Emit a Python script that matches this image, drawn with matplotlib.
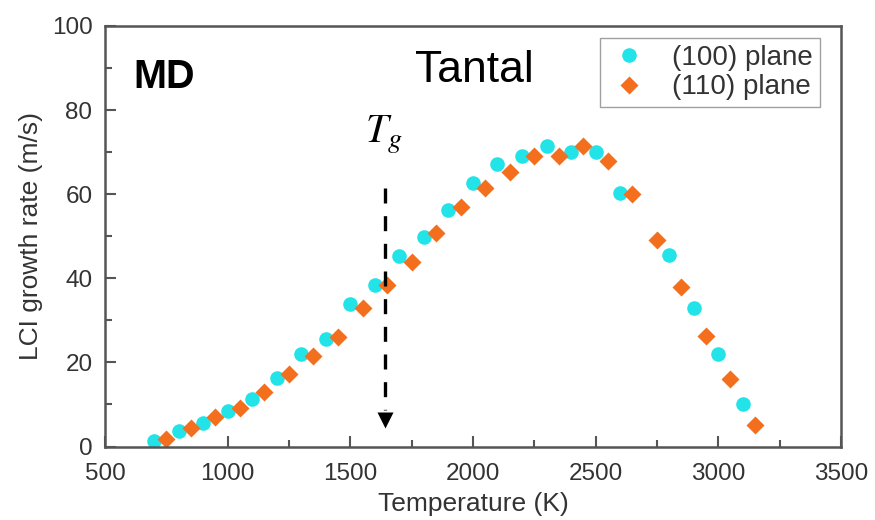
import matplotlib
matplotlib.use("Agg")
import matplotlib.pyplot as plt
from matplotlib.ticker import MultipleLocator

plt.rcParams['font.family'] = ['Liberation Sans', 'DejaVu Sans']
plt.rcParams['mathtext.fontset'] = 'stix'

# (100) plane
t100 = [700, 800, 900, 1000, 1100, 1200, 1300, 1400, 1500, 1600, 1700, 1800,
        1900, 2000, 2100, 2200, 2300, 2400, 2500, 2600, 2800, 2900, 3000, 3100]
v100 = [1.4, 3.6, 5.6, 8.4, 11.3, 16.3, 21.9, 25.6, 33.8, 38.4, 45.2, 49.8,
        56.3, 62.6, 67.2, 69.0, 71.5, 70.1, 70.1, 60.2, 45.6, 32.9, 21.9, 10.0]
# (110) plane
t110 = [750, 850, 950, 1050, 1150, 1250, 1350, 1450, 1550, 1650, 1750, 1850,
        1950, 2050, 2150, 2250, 2350, 2450, 2550, 2650, 2750, 2850, 2950, 3050, 3150]
v110 = [1.7, 4.4, 7.0, 9.2, 12.9, 17.3, 21.5, 26.0, 32.9, 38.5, 43.8, 50.8,
        56.9, 61.4, 65.2, 69.1, 69.1, 71.5, 68.0, 60.0, 49.1, 37.9, 26.4, 16.1, 5.0]

labels = ['(100) plane', '(110) plane']
x_ticks = [500, 1000, 1500, 2000, 2500, 3000, 3500]
y_ticks = [0, 20, 40, 60, 80, 100]
tg_temp = 1640
tg_top = 61.5
tg_bottom = 8.6
tg_tip = 6.4

fig = plt.figure(figsize=(8.75, 5.2), dpi=100)
ax = fig.add_axes([0.12, 0.1413, 0.841, 0.8087])

ax.plot(t100, v100, 'o', color='#22E4E8', ms=10.5, mec='none', label=labels[0])
ax.plot(t110, v110, 'D', color='#F36F1E', ms=8.7, mec='none', label=labels[1])

ax.plot([tg_temp, tg_temp], [tg_top, tg_bottom], color='black', lw=2.4,
        ls=(0, (4.5, 3.8)))
ax.plot([tg_temp], [tg_tip], marker='v', color='black', ms=11, mec='none')

ax.set_xlim(500, 3500)
ax.set_ylim(0, 100)
ax.set_xticks(x_ticks)
ax.set_yticks(y_ticks)
ax.xaxis.set_minor_locator(MultipleLocator(250))
ax.yaxis.set_minor_locator(MultipleLocator(10))
ax.tick_params(which='both', direction='in', top=False, right=False,
               color='#555555', labelcolor='#333333', labelsize=17.5, width=1.5)
ax.tick_params(which='major', length=8)
ax.tick_params(which='minor', length=5)
ax.tick_params(axis='x', pad=12)
ax.tick_params(axis='y', pad=9)
for s in ax.spines.values():
    s.set_color('#555555')
    s.set_linewidth(1.8)

ax.set_xlabel('Temperature (K)', fontsize=19, color='#333333', labelpad=5)
ax.set_ylabel('LCI growth rate (m/s)', fontsize=19, color='#333333', labelpad=6)

ax.text(614, 85.3, 'MD', fontsize=28.5, fontweight='bold', color='black',
        ha='left', va='baseline')
ax.text(1764, 86.7, 'Tantal', fontsize=32, color='black', ha='left', va='baseline')
ax.text(1560, 72.2, r'$T_g$', fontsize=29, color='black', ha='left', va='baseline')

leg = ax.legend(loc='upper right', bbox_to_anchor=(0.9715, 0.9715),
                borderaxespad=0.0, fontsize=20, frameon=True, fancybox=False,
                edgecolor='#888888', handletextpad=0.75, handlelength=1.6,
                labelspacing=0.12, borderpad=0.25)
leg.get_frame().set_linewidth(1.0)
for t in leg.get_texts():
    t.set_color('#333333')

fig.savefig('out.png', dpi=100)
